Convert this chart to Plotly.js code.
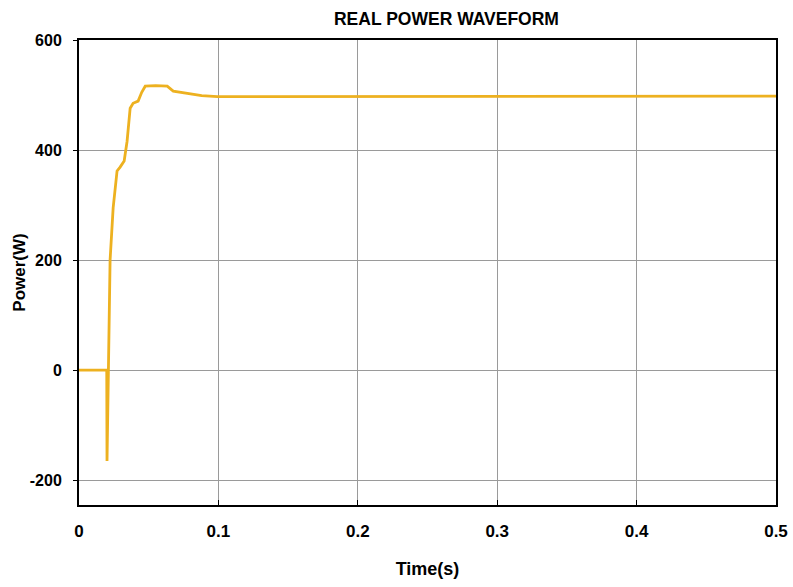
<!DOCTYPE html>
<html>
<head>
<meta charset="utf-8">
<script src="https://cdn.plot.ly/plotly-3.0.1.min.js"></script>
<style>html,body{margin:0;padding:0;background:#fff;}#chart{width:793px;height:587px;}</style>
</head>
<body>
<div id="chart"></div>
<script>
var timeS = [0, 0.0199, 0.0201, 0.0218, 0.0223, 0.0245, 0.0273, 0.0295, 0.0324, 0.0345, 0.0367, 0.0388, 0.0424, 0.0450, 0.0475, 0.0550, 0.0633, 0.0676, 0.0720, 0.0799, 0.0880, 0.0993, 0.12, 0.15, 0.2, 0.25, 0.3, 0.35, 0.4, 0.45, 0.5];
var powerW = [0, 0, -165, 162, 200, 295, 362, 369, 380, 416, 476, 485, 489, 505, 516, 517, 516, 507, 505, 502, 499, 497, 497, 497, 498, 498, 497, 497, 497, 497, 498];
var xTicks = [0, 0.1, 0.2, 0.3, 0.4, 0.5];
var xTickText = ['0', '0.1', '0.2', '0.3', '0.4', '0.5'];
var yTicks = [-200, 0, 200, 400, 600];
var yTickText = ['-200', '0', '200', '400', '600'];

var fam = 'Liberation Sans, Arial, sans-serif';

var trace = {
  x: timeS, y: powerW, type: 'scatter', mode: 'lines',
  line: {color: '#EDB120', width: 2.8},
  hoverinfo: 'skip'
};

var layout = {
  width: 793, height: 587,
  margin: {l: 79, r: 17, t: 40, b: 82},
  paper_bgcolor: '#fff', plot_bgcolor: '#fff',
  showlegend: false,
  title: {text: 'REAL POWER WAVEFORM', x: 0.563, xanchor: 'center', y: 0.968, yanchor: 'middle',
    font: {family: fam, size: 17.5, color: '#000', weight: 'bold'}},
  xaxis: {
    range: [0, 0.5], tickvals: xTicks, ticktext: xTickText,
    showgrid: true, gridcolor: '#9a9a9a', gridwidth: 1,
    zeroline: false, showline: true, linecolor: '#000', linewidth: 2, mirror: true,
    ticks: 'inside', ticklen: 5, tickcolor: '#000',
    ticklabelstandoff: 10,
    tickfont: {family: fam, size: 17, color: '#000', weight: 'bold'},
    title: {text: 'Time(s)', standoff: 22, font: {family: fam, size: 18, color: '#000', weight: 'bold'}}
  },
  yaxis: {
    range: [-245, 600], tickvals: yTicks, ticktext: yTickText,
    showgrid: true, gridcolor: '#9a9a9a', gridwidth: 1,
    zeroline: false, showline: true, linecolor: '#000', linewidth: 2, mirror: true,
    ticks: 'outside', ticklen: 4, tickcolor: '#000',
    ticklabelstandoff: 8,
    tickfont: {family: fam, size: 16, color: '#000', weight: 'bold'},
    title: {text: 'Power(W)', standoff: 0, font: {family: fam, size: 17, color: '#000', weight: 'bold'}}
  }
};

Plotly.newPlot('chart', [trace], layout, {displayModeBar: false, staticPlot: true});
</script>
</body>
</html>
